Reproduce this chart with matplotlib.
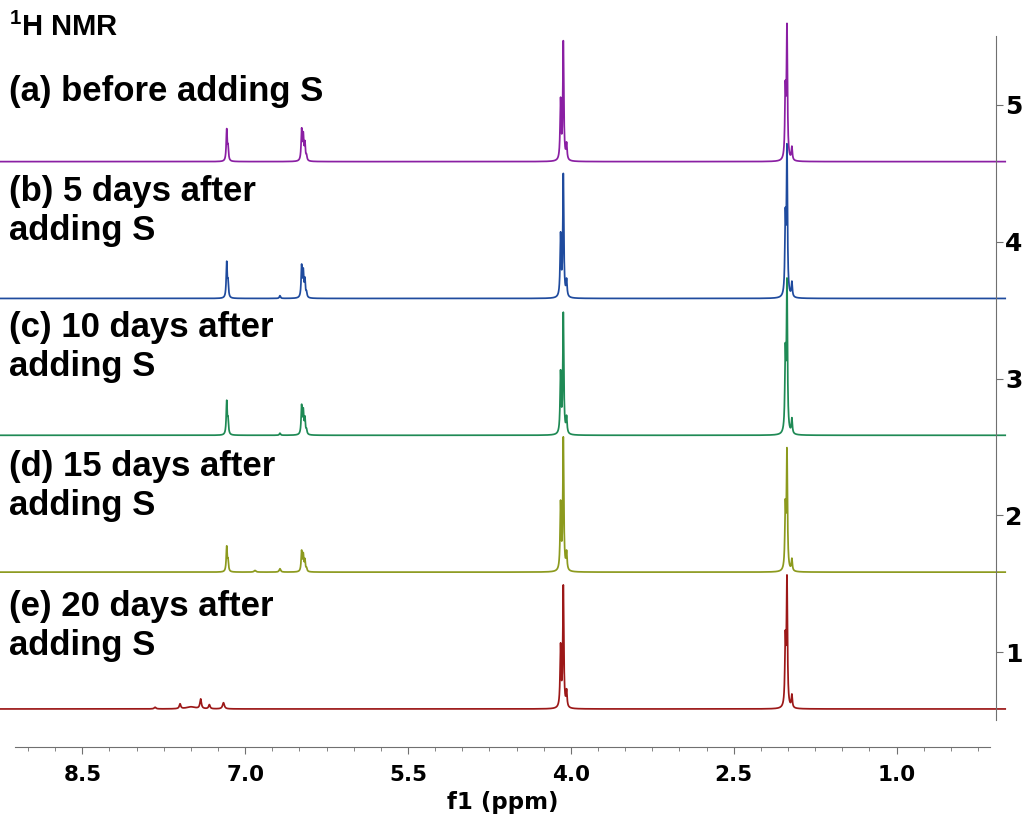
import numpy as np
import matplotlib.pyplot as plt

plt.rcParams['mathtext.fontset'] = 'custom'
plt.rcParams['mathtext.bf'] = 'Liberation Sans:bold'
plt.rcParams['mathtext.rm'] = 'Liberation Sans:bold'

# stacked 1H NMR spectra, top (a) to bottom (e)
labels = ['(a) before adding S', '(b) 5 days after\nadding S', '(c) 10 days after\nadding S',
          '(d) 15 days after\nadding S', '(e) 20 days after\nadding S']
colors = ['#8a1fa3', '#1f4b9e', '#1f8a55', '#8c9a1e', '#9c1818']
offsets = [4.585, 3.585, 2.585, 1.585, 0.585]

# main peak positions (ppm)
pos_ar1, pos_ar2, pos_a, pos_b = 7.17, 6.48, 4.07, 2.01
# peak heights per spectrum
h_ar1 = [0.226, 0.255, 0.24, 0.18, 0.0]
h_ar2 = [0.222, 0.226, 0.204, 0.145, 0.0]
h_a = [0.861, 0.89, 0.876, 0.963, 0.883]
h_b = [0.956, 1.07, 1.088, 0.861, 0.927]

# multiplet patterns (shift from centre, relative height)
ar1_dx, ar1_rel = [0.0, -0.012], [1.0, 0.4]
ar2_dx, ar2_rel = [0.0, -0.015, -0.03, -0.045], [1.0, 0.8, 0.55, 0.15]
pa_dx, pa_rel = [0.025, 0.0, -0.03], [0.5, 1.0, 0.13]
pb_dx, pb_rel = [0.015, 0.0, -0.045], [0.5, 1.0, 0.1]

# minor peaks: (ppm, height, width) per spectrum
minor = [
    [],
    [(6.68, 0.02, 0.006)],
    [(6.68, 0.015, 0.006)],
    [(6.91, 0.012, 0.01), (6.68, 0.025, 0.008)],
    [(7.83, 0.012, 0.01), (7.60, 0.035, 0.008), (7.50, 0.015, 0.05),
     (7.41, 0.07, 0.008), (7.33, 0.03, 0.008), (7.20, 0.045, 0.01)],
]

ppm = np.linspace(9.3, 0.0, 12000)
w = 0.0055


def lor(x0, h, width=w):
    return h * width ** 2 / ((ppm - x0) ** 2 + width ** 2)


def multiplet(x0, h, dx, rel):
    y = np.zeros_like(ppm)
    for d, r in zip(dx, rel):
        y += lor(x0 + d, h * r)
    return y


fig = plt.figure(figsize=(10.26, 8.26), dpi=100)
ax = fig.add_axes([15 / 1026, 1 - 747 / 826, 975 / 1026, 727 / 826])

for i in range(5):
    y = (multiplet(pos_ar1, h_ar1[i], ar1_dx, ar1_rel)
         + multiplet(pos_ar2, h_ar2[i], ar2_dx, ar2_rel)
         + multiplet(pos_a, h_a[i], pa_dx, pa_rel)
         + multiplet(pos_b, h_b[i], pb_dx, pb_rel))
    for p, h, wd in minor[i]:
        y += lor(p, h, wd)
    ax.plot(ppm, y + offsets[i], color=colors[i], lw=1.25, clip_on=False)

ax.set_xlim(9.12, 0.14)
ax.set_ylim(0.307, 5.62)

for s in ['left', 'top']:
    ax.spines[s].set_visible(False)
ax.spines['bottom'].set_color('#707070')
ax.spines['right'].set_color('#707070')
ax.spines['right'].set_bounds(0.503, 5.505)
ax.spines['right'].set_position(('outward', 4))

ax.set_xticks([8.5, 7.0, 5.5, 4.0, 2.5, 1.0])
ax.set_xticks(np.arange(0.25, 9.01, 0.25), minor=True)
ax.tick_params(axis='x', which='major', length=5, color='#707070', labelsize=15.5, pad=8)
ax.tick_params(axis='x', which='minor', length=3, color='#707070')
for lab in ax.get_xticklabels():
    lab.set_fontweight('bold')

ax.yaxis.tick_right()
ax.set_yticks([1, 2, 3, 4, 5])
ax.tick_params(axis='y', length=5, color='#707070', labelsize=18, pad=2)
for lab in ax.get_yticklabels():
    lab.set_fontweight('bold')

ax.set_xlabel('f1 (ppm)', fontsize=16.5, fontweight='bold', labelpad=4)

fig.text(9 / 1026, 1 - 27 / 826, r'$^{1}$H NMR', fontsize=21, fontweight='bold',
         family='Liberation Sans', va='center')
label_y = [91, 211, 347, 486, 626]
for i in range(5):
    fig.text(9 / 1026, 1 - label_y[i] / 826, labels[i], fontsize=25, fontweight='bold',
             family='Liberation Sans', va='center', linespacing=1.2)

fig.savefig('out.png', dpi=100)
